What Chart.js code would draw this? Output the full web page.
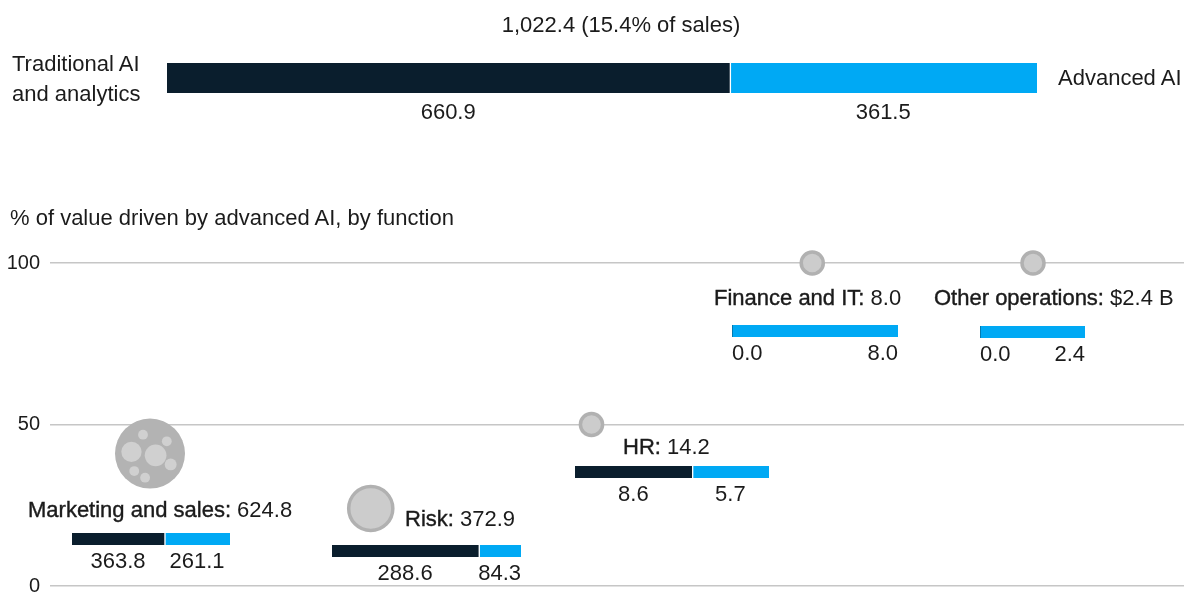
<!DOCTYPE html>
<html>
<head>
<meta charset="utf-8">
<script src="https://cdn.jsdelivr.net/npm/chart.js@4.4.1/dist/chart.umd.min.js"></script>
<style>
  body { margin: 0; background: #fff; }
  #wrap { position: relative; width: 1184px; height: 594px; overflow: hidden;
          font-family: "Liberation Sans", Arial, sans-serif; color: #1b1b1b; }
  .t { position: absolute; font-size: 22px; line-height: 24px; white-space: nowrap; }
  .t b { font-weight: normal; -webkit-text-stroke: 0.4px #1b1b1b; }
  canvas { position: absolute; }
</style>
</head>
<body>
<div id="wrap">
  <canvas id="bubbles" width="1184" height="594" style="left:0;top:0"></canvas>
</div>
<script>
// data ($ B)
const totalValue = 1022.4;
const salesShare = 15.4;
const overallSplit = [660.9, 361.5]; // traditional, advanced
const functions = ["Marketing and sales", "Risk", "HR", "Finance and IT", "Other operations"];
const functionTotals = [624.8, 372.9, 14.2, 8.0, 2.4];
const traditionalValues = [363.8, 288.6, 8.6, 0.0, 0.0];
const advancedValues = [261.1, 84.3, 5.7, 8.0, 2.4];
const advancedShare = [41, 24, 50, 100, 100];
const yTicks = [0, 50, 100];

const DARK = "#0a1e2d";
const BLUE = "#00a9f4";
const TEXT = "#1b1b1b";
const FONT = '"Liberation Sans", Arial, sans-serif';
const wrap = document.getElementById("wrap");

// where each function's label and little split bar sit
const spots = [
  { label: [28, 510], bar: [72, 533, 158] },
  { label: [405, 519], bar: [332, 545, 189] },
  { label: [623, 447], bar: [575, 466, 194] },
  { label: [714, 298], bar: [732, 325, 166] },
  { label: [934, 298], bar: [980, 326, 105] },
];

const addText = (html, x, y, align) => {
  const d = document.createElement("div");
  d.className = "t";
  d.innerHTML = html;
  d.style.left = x + "px";
  d.style.top = (y - 12) + "px";
  if (align === "center") d.style.transform = "translateX(-50%)";
  wrap.appendChild(d);
};

const segmentLabels = {
  id: "segmentLabels",
  afterDatasetsDraw(chart, args, opts) {
    const ctx = chart.ctx;
    const area = chart.chartArea;
    const v0 = chart.data.datasets[0].data[0];
    const v1 = chart.data.datasets[1].data[0];
    const a = chart.getDatasetMeta(0).data[0];
    const b = chart.getDatasetMeta(1).data[0];
    const y = area.bottom + opts.gap;
    ctx.save();
    ctx.font = opts.size + "px " + FONT;
    ctx.fillStyle = TEXT;
    ctx.textBaseline = "middle";
    if (v0 === 0) {
      ctx.textAlign = "left";
      ctx.fillText(v0.toFixed(1), area.left, y);
      ctx.textAlign = "right";
      ctx.fillText(v1.toFixed(1), area.right, y);
    } else {
      ctx.textAlign = "center";
      ctx.fillText(v0.toFixed(1), (a.x + a.base) / 2, y);
      ctx.fillText(v1.toFixed(1), (b.x + b.base) / 2, y);
    }
    ctx.restore();
  },
};

function splitBar(left, top, width, barH, values, gap, size) {
  const pad = 8;
  const cv = document.createElement("canvas");
  cv.width = width + pad * 2;
  cv.height = barH + gap + 16;
  cv.style.left = (left - pad) + "px";
  cv.style.top = top + "px";
  wrap.appendChild(cv);
  new Chart(cv, {
    type: "bar",
    data: {
      labels: [""],
      datasets: [
        { data: [values[0]], backgroundColor: DARK, borderWidth: 0 },
        {
          data: [values[1]],
          backgroundColor: BLUE,
          borderColor: "#fff",
          borderWidth: values[0] > 0 ? { left: 2 } : 0,
          borderSkipped: false,
        },
      ],
    },
    options: {
      indexAxis: "y",
      responsive: false,
      animation: false,
      datasets: { bar: { barPercentage: 1, categoryPercentage: 1 } },
      layout: { autoPadding: false, padding: { left: pad, right: pad, top: 0, bottom: gap + 16 } },
      scales: {
        x: { stacked: true, display: false, min: 0, max: values[0] + values[1] },
        y: { stacked: true, display: false },
      },
      plugins: {
        legend: { display: false },
        tooltip: { enabled: false },
        segmentLabels: { gap: gap, size: size },
      },
    },
    plugins: [segmentLabels],
  });
}

// top summary bar
addText(
  totalValue.toLocaleString("en-US", { minimumFractionDigits: 1 }) + " (" + salesShare + "% of sales)",
  621, 25, "center"
);
const side = document.createElement("div");
side.className = "t";
side.style.cssText = "left:12px;top:49px;line-height:30px";
side.innerHTML = "Traditional AI<br>and analytics";
wrap.appendChild(side);
addText("Advanced AI", 1058, 78);
splitBar(167, 63, 870, 30, overallSplit, 20, 22);

addText("% of value driven by advanced AI, by function", 10, 218);

// per function labels + split bars
const fmt = (v, i) => (i === functions.length - 1 ? "$" + v.toFixed(1) + " B" : v.toFixed(1));
functions.forEach((name, i) => {
  const s = spots[i];
  addText("<b>" + name + ":</b> " + fmt(functionTotals[i], i), s.label[0], s.label[1]);
  splitBar(s.bar[0], s.bar[1], s.bar[2], 12, [traditionalValues[i], advancedValues[i]], 17, 22);
});

// small dots inside the biggest bubble
const innerDots = {
  id: "innerDots",
  afterDatasetsDraw(chart) {
    const el = chart.getDatasetMeta(0).data[0];
    const r = el.options.radius;
    const dots = [[-0.53, -0.05, 0.29], [0.16, 0.05, 0.31], [-0.2, -0.54, 0.14], [0.48, -0.35, 0.14],
                  [0.59, 0.31, 0.17], [-0.45, 0.5, 0.14], [-0.14, 0.69, 0.14]];
    const ctx = chart.ctx;
    ctx.save();
    ctx.fillStyle = "#d0d0d0";
    dots.forEach(([dx, dy, dr]) => {
      ctx.beginPath();
      ctx.arc(el.x + dx * r, el.y + dy * r, dr * r, 0, Math.PI * 2);
      ctx.fill();
    });
    ctx.restore();
  },
};

const maxTotal = Math.max(...functionTotals);
new Chart(document.getElementById("bubbles"), {
  type: "bubble",
  data: {
    datasets: [{
      data: functions.map((f, i) => ({
        x: i,
        y: advancedShare[i],
        r: 11 + 24 * Math.pow(functionTotals[i] / maxTotal, 1.5),
      })),
      backgroundColor: (c) => (c.dataIndex === 0 ? "#b3b3b3" : "#cccccc"),
      borderColor: "#b1b1b1",
      borderWidth: (c) => (c.dataIndex === 0 ? 0 : 3.5),
      clip: false,
    }],
  },
  options: {
    responsive: false,
    animation: false,
    layout: { autoPadding: false, padding: { top: 263, bottom: 8, left: 0, right: 0 } },
    scales: {
      x: { type: "linear", display: false, min: -0.453, max: 4.684 },
      y: {
        min: 0,
        max: 100,
        afterBuildTicks: (s) => { s.ticks = yTicks.map((v) => ({ value: v })); },
        afterFit: (s) => { s.width = 50; s.paddingTop = 0; s.paddingBottom = 0; },
        grid: { color: "#c6c6c6", lineWidth: 1.5, drawTicks: false },
        border: { display: false },
        ticks: { padding: 10, color: TEXT, font: { family: FONT, size: 20 } },
      },
    },
    plugins: { legend: { display: false }, tooltip: { enabled: false } },
  },
  plugins: [innerDots],
});
</script>
</body>
</html>
